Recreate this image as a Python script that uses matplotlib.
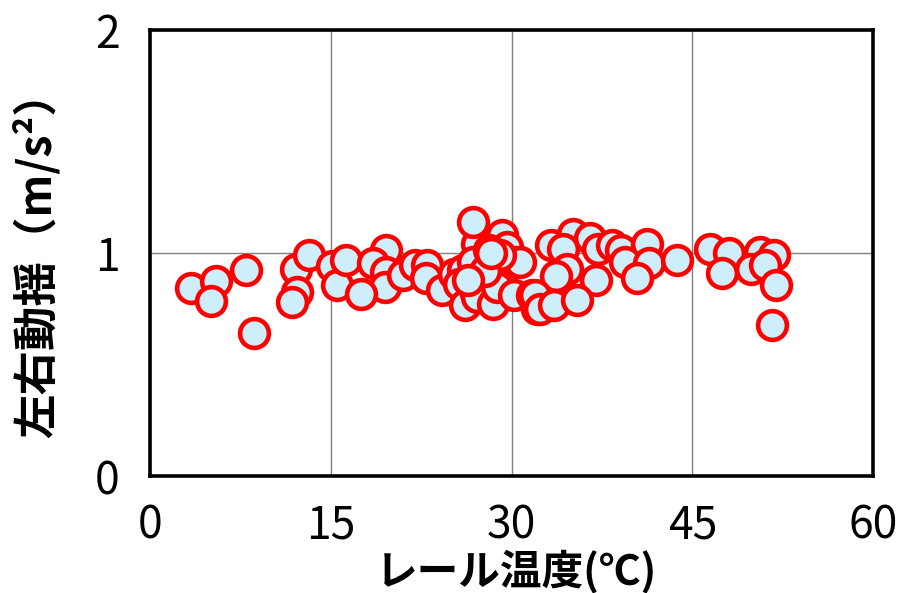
import matplotlib
matplotlib.use("Agg")
import matplotlib.pyplot as plt

plt.rcParams['font.family'] = ['Noto Sans CJK JP', 'DejaVu Sans']

temp = [3.4, 5.5, 5.1, 8.0, 8.6, 12.1, 13.2, 12.2, 11.8, 15.1, 15.5, 16.3,
        19.6, 18.5, 19.6, 19.5, 17.5, 21.0, 22.0, 23.0, 22.9, 24.2, 25.2, 26.0,
        25.6, 26.1, 27.1, 29.2, 29.6, 30.4, 28.5, 26.8, 27.0, 27.1, 28.5, 28.8,
        30.2, 31.7, 32.1, 30.7, 33.3, 35.1, 34.3, 36.5, 37.2, 38.3, 39.1, 41.2,
        39.4, 41.4, 40.4, 43.7, 34.6, 33.7, 37.0, 31.95, 32.4, 33.5, 35.4,
        46.5, 48.0, 47.5, 50.6, 51.8, 49.85, 51.0, 51.9, 51.65, 28.1, 26.8, 29.0,
        27.8, 28.3, 26.4]
accel = [0.842, 0.874, 0.786, 0.924, 0.644, 0.931, 0.991, 0.826, 0.782, 0.943, 0.857, 0.969,
         1.013, 0.957, 0.916, 0.849, 0.816, 0.901, 0.946, 0.946, 0.891, 0.837, 0.909, 0.924,
         0.864, 0.767, 1.043, 1.081, 1.028, 0.961, 0.961, 0.961, 0.834, 0.804, 0.774, 0.849,
         0.812, 0.812, 0.752, 0.961, 1.036, 1.088, 1.017, 1.066, 1.021, 1.036, 1.013, 1.043,
         0.961, 0.954, 0.887, 0.969, 0.931, 0.897, 0.879, 0.812, 0.752, 0.767, 0.789,
         1.017, 0.999, 0.912, 1.006, 0.991, 0.931, 0.946, 0.857, 0.677, 1.013, 1.14, 0.99,
         0.92, 1.0, 0.88]

xticks = [0, 15, 30, 45, 60]
yticks = [0, 1, 2]

fig = plt.figure(figsize=(9.02, 5.93), dpi=100)
ax = fig.add_axes([0.1663, 0.197, 0.8017, 0.752])

ax.scatter(temp, accel, s=430, facecolor='#CDEEFA', edgecolor='#FF0000',
           linewidth=3.3, zorder=3)

ax.set_xlim(0, 60)
ax.set_ylim(0, 2)
ax.set_xticks(xticks)
ax.set_yticks(yticks)
ax.grid(True, color='#808080', linewidth=1.0)
ax.set_axisbelow(True)
for sp in ax.spines.values():
    sp.set_linewidth(2.6)
    sp.set_color('black')
ax.tick_params(axis='x', length=0, labelsize=32, pad=19)
ax.tick_params(axis='y', length=0, labelsize=32, pad=22)

fig.text(516 / 902, 1 - 572 / 593, 'レール温度(℃)', fontsize=30, fontweight='bold',
         ha='center', va='center')
fig.text(37 / 902, 1 - 254 / 593, '左右動揺（m/s²）', fontsize=32, fontweight='bold',
         ha='center', va='center', rotation=90)

fig.savefig('out.png', dpi=100)
